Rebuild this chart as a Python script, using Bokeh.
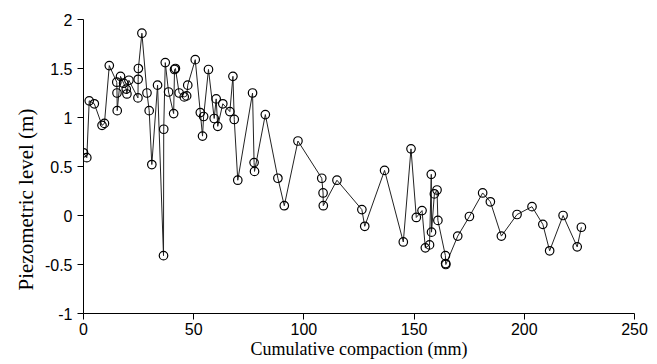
from bokeh.plotting import figure
from bokeh.models import Range1d, FixedTicker, NumeralTickFormatter, ColumnDataSource, Title
from bokeh.embed import file_html
from bokeh.resources import INLINE

# Data
compaction = [0, 1.5, 2.6, 4.9, 8.4, 9.5, 11.7, 15.1, 15.2, 15.3, 16.8, 18.2, 19.4, 19.7,
              20.6, 24.7, 24.8, 24.9, 26.5, 28.8, 29.8, 31.0, 33.6, 36.3, 36.4, 37.1, 38.6,
              40.9, 41.3, 41.7, 43.4, 45.7, 46.8, 47.3, 50.7, 53.0, 54.0, 54.5, 56.7, 59.3,
              60.2, 60.9, 63.2, 66.4, 67.8, 68.4, 70.0, 76.7, 77.4, 77.6, 82.5, 88.2, 91.1,
              97.3, 108.1, 108.7, 108.8, 115.0, 126.3, 127.6, 136.6, 145.1, 148.6, 151.0,
              153.6, 155.1, 157.0, 157.8, 157.9, 159.2, 160.4, 160.8, 164.2, 164.3, 164.4,
              169.8, 175.1, 181.1, 184.6, 189.6, 196.7, 203.5, 208.4, 211.5, 217.6, 224.0,
              225.9]
piezo = [0.64, 0.59, 1.17, 1.14, 0.92, 0.94, 1.53, 1.36, 1.25, 1.07, 1.42, 1.35, 1.29, 1.24,
         1.38, 1.20, 1.39, 1.50, 1.86, 1.25, 1.07, 0.52, 1.33, -0.41, 0.88, 1.56, 1.26,
         1.04, 1.49, 1.50, 1.25, 1.21, 1.22, 1.33, 1.59, 1.05, 0.81, 1.01, 1.49, 0.99,
         1.19, 0.91, 1.14, 1.06, 1.42, 0.98, 0.36, 1.25, 0.54, 0.45, 1.03, 0.38, 0.10,
         0.76, 0.38, 0.23, 0.10, 0.36, 0.06, -0.11, 0.46, -0.27, 0.68, -0.02,
         0.05, -0.33, -0.30, 0.42, -0.17, 0.22, 0.26, -0.05, -0.41, -0.49, -0.50,
         -0.21, -0.01, 0.23, 0.14, -0.21, 0.01, 0.09, -0.09, -0.36, 0.00, -0.32,
         -0.12]

x_ticks = [0, 50, 100, 150, 200, 250]
y_ticks = [-1, -0.5, 0, 0.5, 1, 1.5, 2]
x_title = "Cumulative compaction (mm)"
y_title = "Piezometric level (m)"

src = ColumnDataSource(data=dict(x=compaction, y=piezo))

p = figure(frame_width=551, frame_height=294,
           x_range=Range1d(0, 250), y_range=Range1d(-1, 2),
           output_backend="svg", toolbar_location=None,
           min_border_left=83, min_border_top=19, min_border_right=15, min_border_bottom=0)

p.line("x", "y", source=src, line_color="#222222", line_width=1)
p.scatter("x", "y", source=src, size=8.5, marker="circle", line_color="black",
          line_width=1.2, fill_alpha=0)

p.xgrid.visible = False
p.ygrid.visible = False
p.outline_line_color = None
p.background_fill_color = "white"
p.border_fill_color = "white"

p.xaxis.ticker = FixedTicker(ticks=x_ticks)
p.yaxis.ticker = FixedTicker(ticks=y_ticks)
p.yaxis.formatter = NumeralTickFormatter(format="0.[0]")

for ax in (p.xaxis[0], p.yaxis[0]):
    ax.axis_line_color = "black"
    ax.axis_line_width = 1
    ax.major_tick_line_color = "black"
    ax.major_tick_in = 0
    ax.major_tick_out = 6
    ax.minor_tick_line_color = None
    ax.major_label_text_font = "Liberation Sans"
    ax.major_label_text_font_size = "16px"
    ax.major_label_text_color = "black"

p.xaxis.axis_label = x_title
p.xaxis.axis_label_text_font = "Liberation Serif"
p.xaxis.axis_label_text_font_style = "normal"
p.xaxis.axis_label_text_color = "black"
p.xaxis.axis_label_text_font_size = "18px"
p.xaxis.major_label_standoff = 3
p.xaxis.axis_label_standoff = 1
p.yaxis.major_label_standoff = 5

ytitle = Title(text=y_title, align="left", offset=23, standoff=8,
               text_font="Liberation Serif", text_font_size="21px",
               text_font_style="normal", text_color="black")
p.add_layout(ytitle, "left")

open("out.html", "w").write(file_html(p, INLINE))
